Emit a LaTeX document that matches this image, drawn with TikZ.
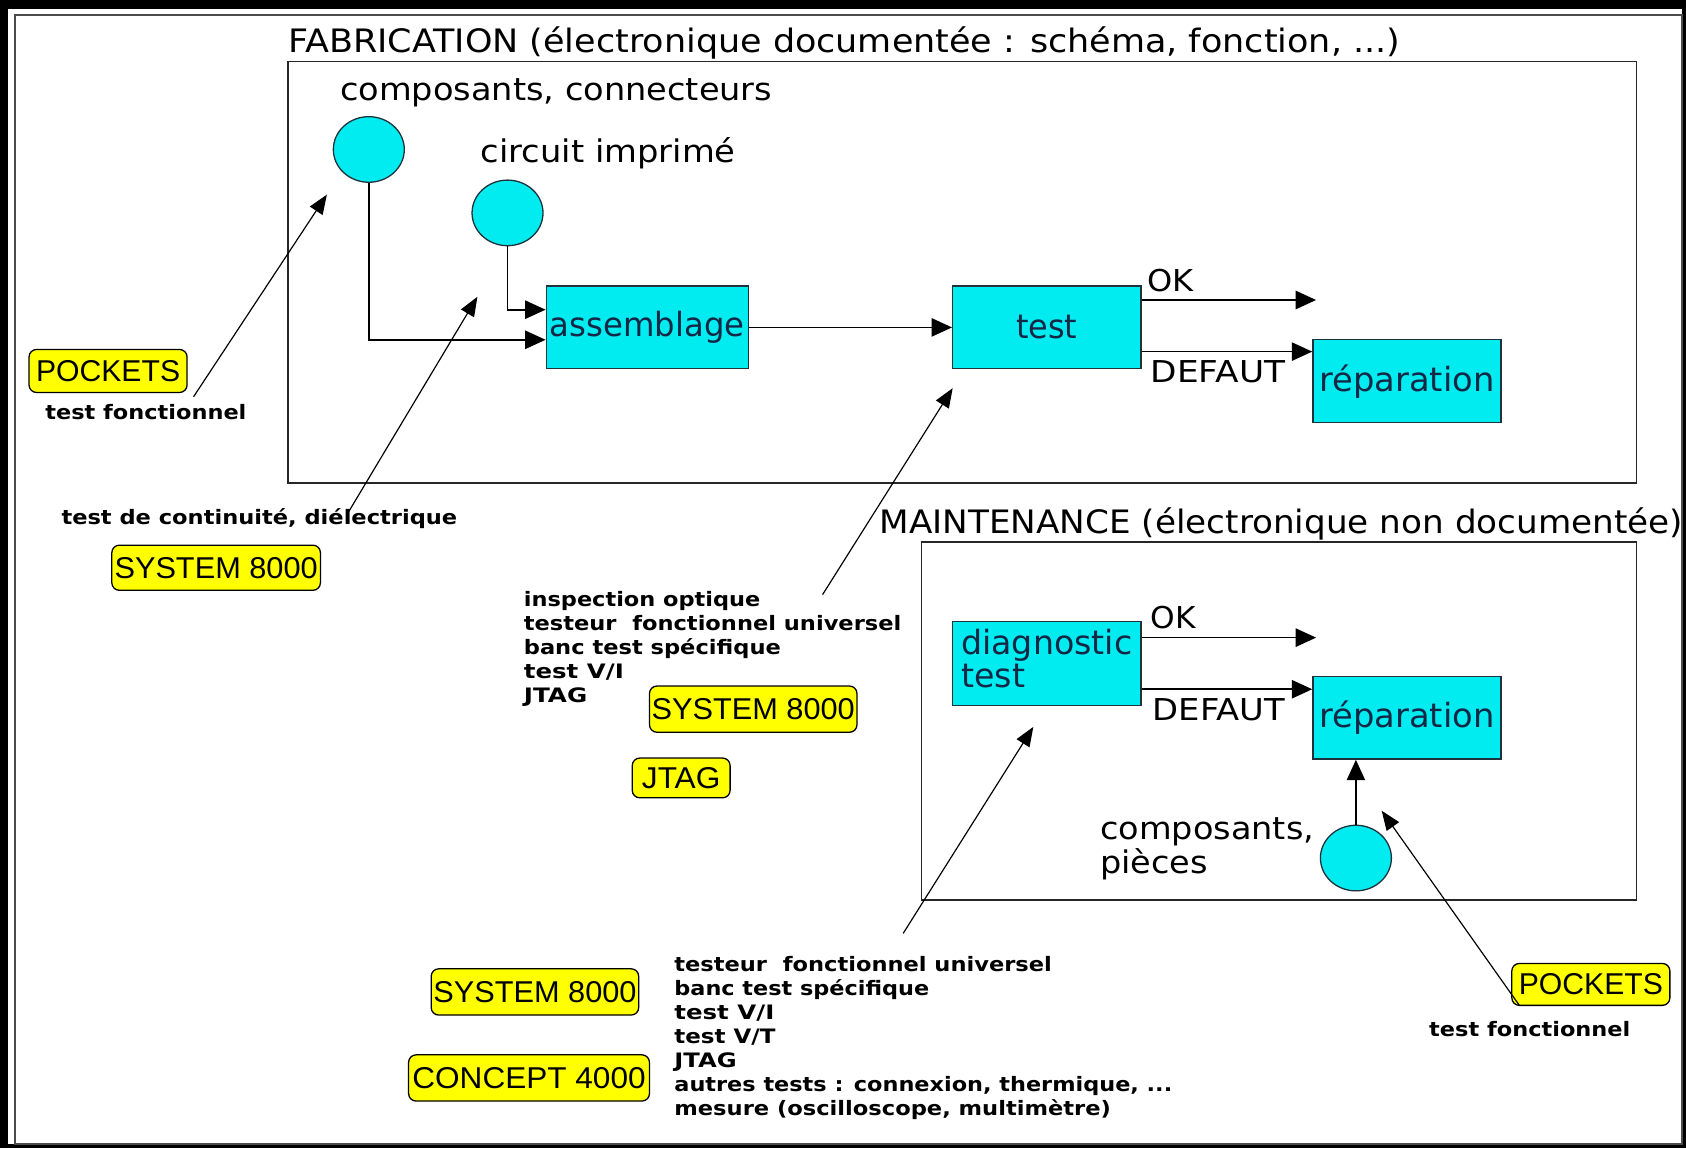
\documentclass[tikz,border=0pt]{standalone}
\usepackage{fontspec}
\usepackage{graphicx}
\usetikzlibrary{arrows.meta,shapes.geometric}
\setmainfont{DejaVu Sans}
\newfontfamily\libsans{Liberation Sans}
\newcommand\W[2]{\resizebox{#1pt}{\height}{#2}}
\definecolor{cy}{RGB}{0,236,240}
\definecolor{navy}{RGB}{20,40,70}
\definecolor{boxline}{RGB}{30,50,60}
\definecolor{yel}{RGB}{255,255,0}
\begin{document}
\begin{tikzpicture}[x=1pt,y=-1pt,
  frame/.style={draw=black!85, line width=1.4pt, inner sep=0},
  proc/.style={draw=boxline, fill=cy, line width=1.2pt, text=navy, inner sep=0, font=\fontsize{31}{31}\selectfont},
  res/.style={ellipse, draw=boxline, fill=cy, line width=1.2pt, minimum width=66, minimum height=61, inner sep=0},
  ybox/.style={draw=black, fill=yel, rounded corners=7pt, line width=1.2pt, inner sep=0, font=\libsans\fontsize{28}{28}\selectfont},
  arr/.style={line width=1.6pt, -{Triangle[length=19pt,width=17pt]}},
  ptr/.style={line width=1.1pt, -{Triangle[length=18pt,width=14pt]}},
  lab/.style={inner sep=0, anchor=west, font=\fontsize{29}{29}\selectfont},
  flow/.style={inner sep=0, anchor=west, font=\fontsize{28}{28}\selectfont},
  small/.style={inner sep=0, anchor=west, font=\bfseries\fontsize{18.5}{22.3}\selectfont},
  blk/.style={inner sep=0, anchor=north west, align=left, font=\bfseries\fontsize{18.5}{22.3}\selectfont}
]
\useasboundingbox (0,0) rectangle (1568,1068);
\fill[black] (0,0) rectangle (1568,1068);
\fill[white] (7,8) rectangle (1564,1064);
\draw[black!70, line width=1.5pt] (14,14) rectangle (1564,1064);

% frames
\node[frame, minimum width=1254, minimum height=392] (fab) at (895,253) {};
\node[frame, minimum width=665, minimum height=333] (mnt) at (1189.5,670.5) {};
\node[lab, font=\fontsize{30}{30}\selectfont] (tfab) at (268,40) {\W{1034}{FABRICATION (électronique documentée : schéma, fonction, ...)}};
\node[lab, font=\fontsize{30}{30}\selectfont] (tmnt) at (818,487) {\W{747}{MAINTENANCE (électronique non documentée)}};

% resources
\node[res] (c1) at (343,139) {};
\node[res] (c2) at (472,198) {};
\node[res] (c3) at (1261,798) {};
\node[lab] (lc1) at (316,86) {\W{402}{composants, connecteurs}};
\node[lab] (lc2) at (447,143) {\W{237}{circuit imprimé}};
\node[lab, align=left] (lc3) at (1023,790.5) {\resizebox{199pt}{\height}{\begin{tabular}{@{}l@{}}composants,\\pièces\end{tabular}}};

% process boxes
\node[proc, minimum width=188, minimum height=77] (asm) at (602,304.5) {\W{181}{assemblage}};
\node[proc, minimum width=175, minimum height=77] (tst) at (973.5,304.5) {\W{57}{test}};
\node[proc, minimum width=175, minimum height=77] (rep1) at (1308.5,354.5) {\W{163}{réparation}};
\node[proc, minimum width=175, minimum height=78] (diag) at (973.5,617) {\resizebox{159pt}{\height}{\begin{tabular}{@{}l@{}}diagnostic\\test\end{tabular}}};
\node[proc, minimum width=175, minimum height=77] (rep2) at (1308.5,667.5) {\W{163}{réparation}};

% flow labels
\node[flow] (ok1) at (1067,261) {\W{43}{OK}};
\node[flow] (df1) at (1070,346) {\W{125}{DEFAUT}};
\node[flow] (ok2) at (1070,574) {\W{42}{OK}};
\node[flow] (df2) at (1072,660) {\W{123}{DEFAUT}};

% flow connectors
\coordinate (okend1) at (1224,279);
\coordinate (okend2) at (1224,593);
\draw[arr] (c1.south) |- ([yshift=-11.5pt]asm.west);
\draw[arr] (c2.south) |- ([yshift=16.5pt]asm.west);
\draw[arr] (asm.east) -- (tst.west);
\draw[arr] ([yshift=25.5pt]tst.east) -- (okend1);
\draw[arr] ([yshift=-22.5pt]tst.east) -- ([yshift=27.5pt]rep1.west);
\draw[arr] ([yshift=24pt]diag.east) -- (okend2);
\draw[arr] ([yshift=-24pt]diag.east) -- ([yshift=26.5pt]rep2.west);
\draw[arr] (c3.north) -- (c3.north |- rep2.south);

% yellow tool boxes
\node[ybox, minimum width=147, minimum height=40] (pk1) at (100.5,345) {\W{134}{POCKETS}};
\node[ybox, minimum width=194, minimum height=42] (s1) at (201,528) {\W{189}{SYSTEM 8000}};
\node[ybox, minimum width=193, minimum height=43] (s2) at (700.5,659.5) {\W{189}{SYSTEM 8000}};
\node[ybox, minimum width=91, minimum height=37] (jt) at (633.5,723.5) {\W{73}{JTAG}};
\node[ybox, minimum width=193, minimum height=43] (s3) at (497.5,922.5) {\W{189}{SYSTEM 8000}};
\node[ybox, minimum width=224, minimum height=43] (cc) at (492,1002.5) {\W{217}{CONCEPT 4000}};
\node[ybox, minimum width=147, minimum height=39] (pk2) at (1479.5,915.5) {\W{134}{POCKETS}};

% bold method texts
\node[small] (tf1) at (42,383) {\W{187}{test fonctionnel}};
\node[small] (tc) at (57,482) {\W{368}{test de continuité, diélectrique}};
\node[small] (tf2) at (1329,957) {\W{187}{test fonctionnel}};
\node[blk] (b1) at (487,550) {\W{220}{inspection optique}\\\W{351}{testeur\ \ fonctionnel universel}\\\W{239}{banc test spécifique}\\\W{93}{test V/I}\\\W{59}{JTAG}};
\node[blk] (b2) at (627,889) {\W{351}{testeur\ \ fonctionnel universel}\\\W{237}{banc test spécifique}\\\W{93}{test V/I}\\\W{94}{test V/T}\\\W{58}{JTAG}\\\W{463}{autres tests : connexion, thermique, ...}\\\W{406}{mesure (oscilloscope, multimètre)}};

% pointers
\coordinate (p1a) at (180,369); \coordinate (p1b) at (304,181);
\coordinate (p2a) at (323,478); \coordinate (p2b) at (444,276);
\coordinate (p3a) at (765,553); \coordinate (p3b) at (886,361);
\coordinate (p4a) at (840,868); \coordinate (p4b) at (961,676);
\coordinate (p5a) at (1413,935); \coordinate (p5b) at (1285,754);
\draw[ptr] (p1a) -- (p1b);
\draw[ptr] (p2a) -- (p2b);
\draw[ptr] (p3a) -- (p3b);
\draw[ptr] (p4a) -- (p4b);
\draw[ptr] (p5a) -- (p5b);
\end{tikzpicture}
\end{document}
